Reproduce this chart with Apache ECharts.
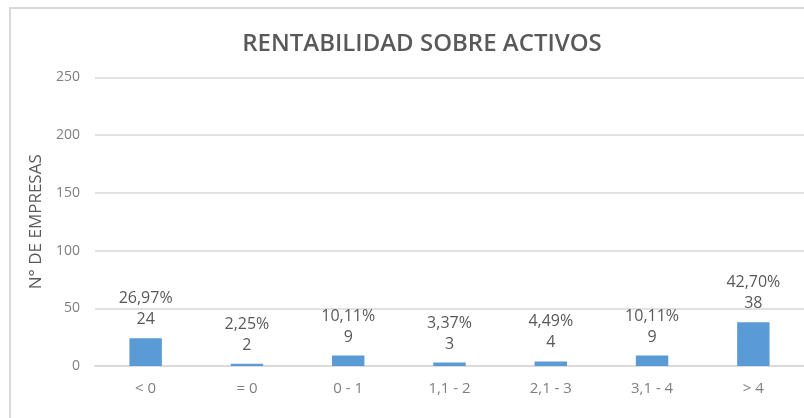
<!DOCTYPE html>
<html>
<head>
<meta charset="utf-8">
<script src="https://cdn.jsdelivr.net/npm/echarts@6/dist/echarts.min.js"></script>
<style>html,body{margin:0;padding:0;background:#fff;}#c{width:804px;height:418px;}</style>
</head>
<body>
<div id="c"></div>
<script>
var categories = ['< 0', '= 0', '0 - 1', '1,1 - 2', '2,1 - 3', '3,1 - 4', '> 4'];
var counts = [24, 2, 9, 3, 4, 9, 38];
var percents = ['26,97%', '2,25%', '10,11%', '3,37%', '4,49%', '10,11%', '42,70%'];
var yTicks = [0, 50, 100, 150, 200, 250];

var chart = echarts.init(document.getElementById('c'));
chart.setOption({
  animation: false,
  backgroundColor: '#fff',
  graphic: [{
    type: 'rect', shape: {x: 10, y: 8, width: 820, height: 430},
    style: {fill: 'none', stroke: '#d9d9d9', lineWidth: 2}, silent: true
  }],
  title: {
    text: 'RENTABILIDAD SOBRE ACTIVOS', left: 417, top: 27, textAlign: 'center',
    textStyle: {fontFamily: 'Open Sans', fontSize: 24, fontWeight: 600, color: '#595959'}
  },
  grid: {left: 95, right: -1, top: 77.5, bottom: 52},
  xAxis: {
    type: 'category', data: categories,
    axisLine: {lineStyle: {color: '#d9d9d9', width: 1.5}},
    axisTick: {show: false},
    axisLabel: {fontFamily: 'Open Sans', fontSize: 15, color: '#7f7f7f', margin: 15}
  },
  yAxis: {
    type: 'value', min: yTicks[0], max: yTicks[yTicks.length - 1], interval: 50,
    name: 'N° DE EMPRESAS', nameLocation: 'middle', nameGap: 50,
    nameTextStyle: {fontFamily: 'Open Sans', fontSize: 17, color: '#595959'},
    axisLine: {show: false}, axisTick: {show: false},
    axisLabel: {fontFamily: 'Open Sans', fontSize: 14, color: '#7f7f7f', margin: 15},
    splitLine: {lineStyle: {color: '#d9d9d9', width: 1.5}}
  },
  series: [{
    type: 'bar', data: counts, barWidth: '32%',
    itemStyle: {color: '#5b9bd5'},
    label: {
      show: true, position: 'top', distance: 8,
      fontFamily: 'Open Sans', fontSize: 16, color: '#595959', lineHeight: 21,
      formatter: function (p) { return percents[p.dataIndex] + '\n' + p.value; }
    }
  }]
});
</script>
</body>
</html>
